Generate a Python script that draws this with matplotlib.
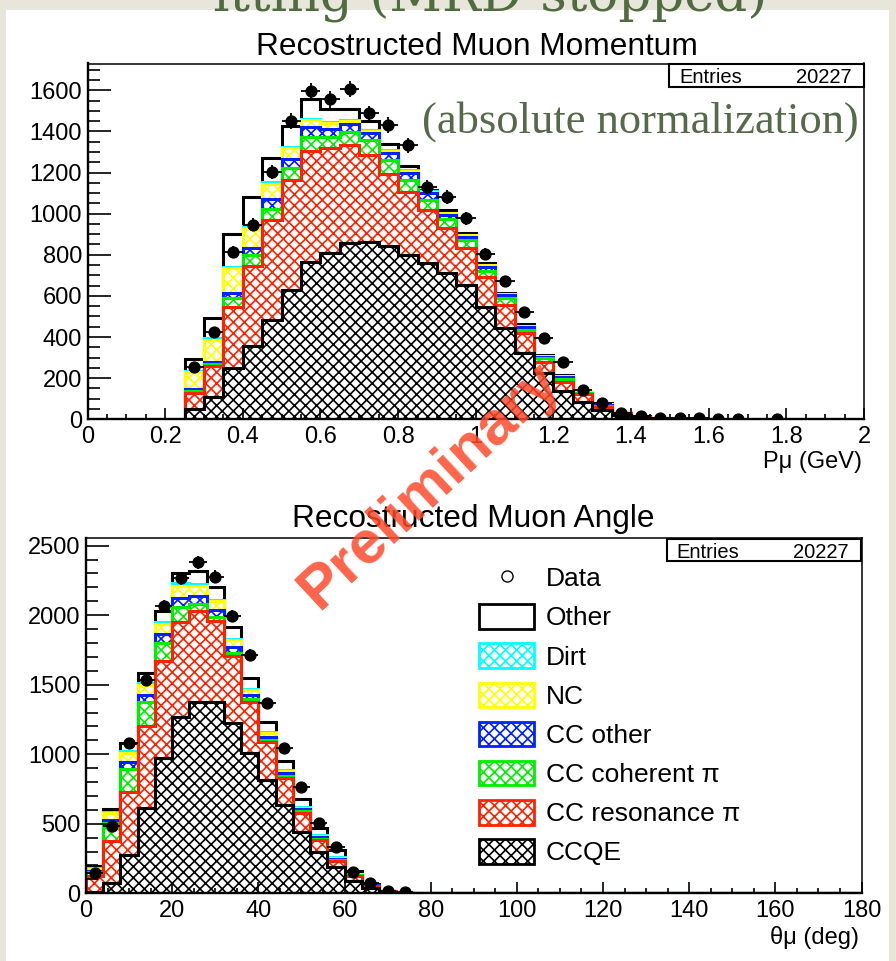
import numpy as np
import matplotlib
matplotlib.use("Agg")
import matplotlib.pyplot as plt
from matplotlib.patches import Patch, Rectangle
from matplotlib.lines import Line2D
from matplotlib.ticker import MultipleLocator, FuncFormatter

plt.rcParams['font.family'] = ['Liberation Sans', 'DejaVu Sans']
plt.rcParams['hatch.linewidth'] = 1.2

W, H = 896, 961

# ---- momentum histogram (0.05 GeV bins starting at 0.25 GeV) ----
p_lo, p_bw = 0.25, 0.05
p_ccqe = [50, 107, 248, 356, 482, 628, 763, 810, 858, 861, 842, 798, 758, 709, 653, 547, 442, 321, 224, 138, 86, 45, 21, 8, 3, 1]
p_ccres = [79, 152, 299, 390, 486, 535, 542, 508, 475, 423, 353, 308, 259, 219, 178, 146, 113, 97, 56, 45, 35, 16, 8, 3, 1, 0]
p_cccoh = [10, 10, 44, 52, 54, 57, 68, 57, 62, 73, 68, 57, 49, 44, 40, 29, 33, 16, 16, 13, 5, 5, 2, 1, 0, 0]
p_ccoth = [8, 11, 21, 36, 48, 48, 49, 37, 41, 36, 32, 35, 32, 21, 16, 19, 16, 16, 8, 11, 4, 4, 2, 1, 1, 1]
p_nc = [84, 105, 123, 97, 73, 49, 32, 28, 14, 10, 10, 9, 8, 8, 9, 9, 4, 5, 4, 4, 2, 2, 1, 0, 0, 0]
p_dirt = [5, 12, 6, 8, 12, 8, 8, 6, 6, 3, 4, 3, 2, 2, 2, 2, 1, 1, 1, 1, 1, 1, 1, 0, 0, 0]
p_other = [57, 97, 158, 143, 116, 102, 93, 63, 53, 43, 32, 21, 9, 14, 6, 9, 3, 6, 3, 3, 1, 5, 2, 1, 0, 0]
p_data = [256, 426, 814, 947, 1203, 1449, 1597, 1555, 1606, 1487, 1430, 1333, 1130, 1082, 977, 806,
          672, 520, 393, 277, 142, 78, 29, 16, 8, 5, 4, 3, 2, 0, 1]

# ---- angle histogram (4 deg bins starting at 0) ----
a_lo, a_bw, a_nbins = 0.0, 4.0, 45
a_ccqe = [8, 72, 275, 611, 975, 1270, 1378, 1378, 1227, 1007, 815, 635, 443, 299, 191, 90, 40, 12, 4, 1]
a_ccres = [117, 306, 456, 592, 695, 683, 654, 582, 481, 371, 275, 196, 137, 84, 43, 32, 12, 4, 1, 1]
a_cccoh = [25, 125, 161, 175, 127, 108, 48, 24, 18, 17, 15, 14, 10, 9, 6, 8, 3, 1, 0, 0]
a_ccoth = [10, 24, 54, 48, 67, 64, 58, 53, 47, 31, 21, 18, 14, 11, 6, 5, 2, 0, 0, 0]
a_nc = [16, 48, 61, 72, 72, 85, 72, 67, 48, 36, 29, 18, 10, 11, 6, 5, 2, 1, 1, 0]
a_dirt = [4, 12, 16, 12, 15, 19, 14, 6, 7, 6, 5, 4, 4, 3, 10, 2, 1, 0, 0, 0]
a_other = [16, 17, 55, 72, 81, 76, 96, 90, 89, 78, 74, 68, 58, 50, 49, 18, 7, 2, 0, 0]
a_data = [144, 484, 1078, 1534, 2066, 2265, 2380, 2276, 1994, 1713, 1366, 1042, 762, 503, 331, 155, 72, 19, 9]

labels = ["CCQE", "CC resonance \u03c0", "CC coherent \u03c0", "CC other", "NC", "Dirt", "Other"]
colors = ["black", "#ff2200", "#00ee00", "#0022ff", "#ffff00", "#00ffff", "black"]
entries = "20227"


def draw_stack(ax, lo, bw, layers, nbins=None):
    layers = [np.asarray(l, float) for l in layers]
    n = len(layers[0])
    if nbins is not None and nbins > n:
        layers = [np.concatenate([l, np.zeros(nbins - n)]) for l in layers]
        n = nbins
    edges = lo + bw * np.arange(n + 1)
    cum = np.cumsum(layers, axis=0)
    for k in range(len(layers) - 1, -1, -1):
        col = colors[k]
        if k == len(layers) - 1:
            ax.stairs(cum[k], edges, baseline=0, fill=True, facecolor="white", linewidth=0)
        else:
            ax.stairs(cum[k], edges, baseline=0, fill=True, facecolor="white",
                      edgecolor=col, hatch="xxx", linewidth=0)
        ax.stairs(cum[k], edges, baseline=0, color=col, linewidth=2.2)


def draw_data(ax, lo, bw, data):
    data = np.asarray(data, float)
    x = lo + bw * (np.arange(len(data)) + 0.5)
    m = data > 0
    ax.errorbar(x[m], data[m], xerr=bw / 2, yerr=np.sqrt(data[m]), fmt="o", color="black",
                ms=7.8, elinewidth=1.3, capsize=0, zorder=10)


def style_axes(ax, xmaj, xmin, ymaj, ymin):
    ax.xaxis.set_major_locator(MultipleLocator(xmaj))
    ax.xaxis.set_minor_locator(MultipleLocator(xmin))
    ax.yaxis.set_major_locator(MultipleLocator(ymaj))
    ax.yaxis.set_minor_locator(MultipleLocator(ymin))
    ax.xaxis.set_major_formatter(FuncFormatter(lambda v, p: "%g" % round(v, 6)))
    ax.tick_params(axis="both", which="both", direction="in", top=False, right=False,
                   labelsize=17, width=1.2)
    ax.tick_params(axis="y", which="major", length=16.5, pad=4)
    ax.tick_params(axis="y", which="minor", length=8.3)
    ax.tick_params(axis="x", which="major", length=7.7, pad=5)
    ax.tick_params(axis="x", which="minor", length=3.8)
    for s in ["left", "bottom"]:
        ax.spines[s].set_linewidth(1.7)
    for s in ["top", "right"]:
        ax.spines[s].set_linewidth(1.1)


def fx(x):
    return x / W


def fy(y):
    return 1 - y / H


fig = plt.figure(figsize=(W / 100, H / 100), dpi=100, facecolor="#e8e5da")
fig.patches.append(Rectangle((fx(6), 0), fx(883), fy(10), transform=fig.transFigure,
                             facecolor="white", edgecolor="none", zorder=-10))

# top panel
ax1 = fig.add_axes([fx(87.5), fy(419.3), fx(776.5), (419.3 - 63.5) / H])
draw_stack(ax1, p_lo, p_bw, [p_ccqe, p_ccres, p_cccoh, p_ccoth, p_nc, p_dirt, p_other])
draw_data(ax1, p_lo, p_bw, p_data)
ax1.set_xlim(0, 2)
ax1.set_ylim(0, 1730)
style_axes(ax1, 0.2, 0.05, 200, 50)

# bottom panel
ax2 = fig.add_axes([fx(86), fy(893.3), fx(775.5), (893.3 - 538.3) / H])
draw_stack(ax2, a_lo, a_bw, [a_ccqe, a_ccres, a_cccoh, a_ccoth, a_nc, a_dirt, a_other], a_nbins)
draw_data(ax2, a_lo, a_bw, a_data)
ax2.set_xlim(0, 180)
ax2.set_ylim(0, 2553)
style_axes(ax2, 20, 5, 500, 100)

# titles and axis labels
fig.text(fx(477), fy(55), "Recostructed Muon Momentum", fontsize=22.8, ha="center", va="baseline")
fig.text(fx(473), fy(527), "Recostructed Muon Angle", fontsize=22.8, ha="center", va="baseline")
fig.text(fx(862), fy(468), "P\u03bc (GeV)", fontsize=17, ha="right", va="baseline")
fig.text(fx(859), fy(944), "\u03b8\u03bc (deg)", fontsize=17, ha="right", va="baseline")

# stat boxes
for (x0, x1, y0, y1) in [(669, 864, 64, 86.7), (666.7, 861, 539.3, 561)]:
    fig.patches.append(Rectangle((fx(x0), fy(y1)), fx(x1 - x0), (y1 - y0) / H,
                                 transform=fig.transFigure, facecolor="white",
                                 edgecolor="black", linewidth=1.5, zorder=5))
    fig.text(fx(x0 + 10), fy(y1 - 3.5), "Entries", fontsize=14.5, ha="left", va="baseline", zorder=6)
    fig.text(fx(x1 - 12), fy(y1 - 3.5), entries, fontsize=14.5, ha="right", va="baseline", zorder=6)

# legend
handles = [Line2D([], [], marker="o", mfc="none", mec="black", mew=1.0, ms=8, ls="none")]
handles.append(Patch(facecolor="white", edgecolor="black", linewidth=2))
for k in range(5, -1, -1):
    handles.append(Patch(facecolor="white", edgecolor=colors[k], hatch="xxx", linewidth=2))
leg_labels = ["Data", "Other"] + [labels[k] for k in range(5, -1, -1)]
ax2.legend(handles, leg_labels, loc="upper left", bbox_to_anchor=(fx(479), fy(565)),
           bbox_transform=fig.transFigure, frameon=False, fontsize=19, borderpad=0,
           borderaxespad=0, handlelength=2.1, handleheight=1.05, handletextpad=0.42,
           labelspacing=0.49)

# slide decorations
fig.text(fx(422), fy(133), "(absolute normalization)", fontsize=32, family="Liberation Serif",
         color="#56694a", ha="left", va="baseline")
fig.text(fx(213), fy(10), "itting (MRD-stopped)", fontsize=37, family="DejaVu Serif",
         color="#4f6b3f", ha="left", va="baseline")
fig.text(fx(430), fy(486), "Preliminary", fontsize=44, fontweight="bold", color="#ff4a2a",
         alpha=0.85, rotation=43, rotation_mode="anchor", ha="center", va="center", zorder=20)

fig.savefig("out.png", dpi=100, facecolor=fig.get_facecolor())
